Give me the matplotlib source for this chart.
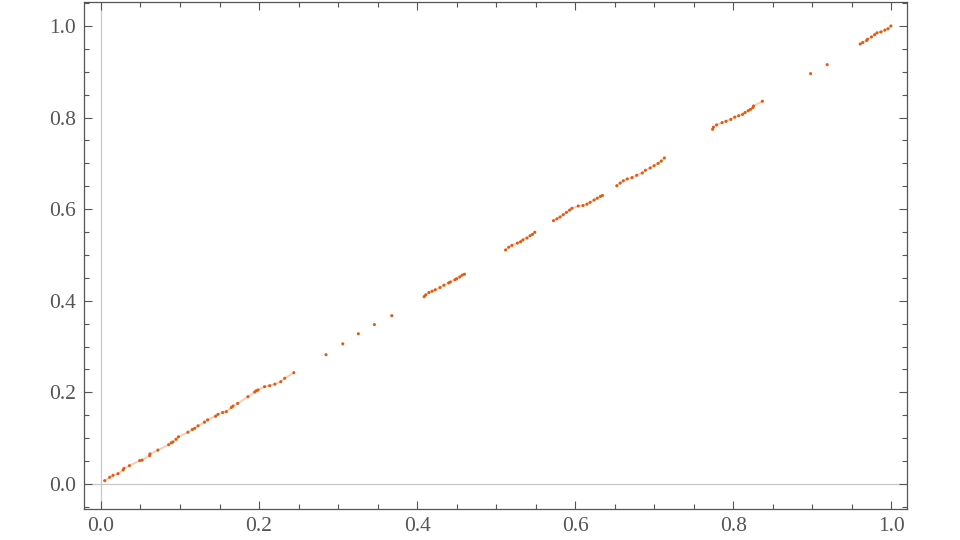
import matplotlib
matplotlib.use("Agg")
import matplotlib.pyplot as plt
from matplotlib.ticker import MultipleLocator, FormatStrFormatter

# Data points (x, y)
xs = [0.0047, 0.011, 0.0152, 0.0215, 0.028, 0.029, 0.036, 0.049, 0.052, 0.0616, 0.062,
      0.072, 0.0857, 0.089, 0.091, 0.095, 0.098, 0.110, 0.1156, 0.1186, 0.1228, 0.131,
      0.135, 0.145, 0.148, 0.154, 0.1586, 0.165, 0.167, 0.173, 0.186, 0.1946, 0.1966,
      0.1987, 0.207, 0.2135, 0.220, 0.2275, 0.2325, 0.244,
      0.2848, 0.306, 0.3257, 0.346, 0.368,
      0.409, 0.411, 0.415, 0.419, 0.423, 0.429, 0.434, 0.440, 0.442, 0.448, 0.450,
      0.454, 0.457, 0.460,
      0.512, 0.516, 0.520, 0.527, 0.531, 0.534, 0.539, 0.543, 0.546, 0.549,
      0.5726, 0.577, 0.581, 0.585, 0.589, 0.593, 0.596,
      0.604, 0.610, 0.615, 0.619, 0.624, 0.628, 0.632, 0.6346,
      0.6528, 0.657, 0.661, 0.666, 0.672, 0.678, 0.685, 0.689, 0.695, 0.700, 0.705,
      0.709, 0.713,
      0.774, 0.775, 0.779, 0.786, 0.791, 0.797, 0.802, 0.807, 0.812, 0.815, 0.819,
      0.822, 0.825, 0.8257,
      0.837, 0.898, 0.919,
      0.9608, 0.964, 0.969, 0.970, 0.975, 0.979, 0.982, 0.987, 0.992, 0.996, 0.9996]
ys = [0.0072, 0.0146, 0.019, 0.0225, 0.0306, 0.034, 0.040, 0.051, 0.052, 0.062, 0.0655,
      0.074, 0.0858, 0.090, 0.0917, 0.0976, 0.103, 0.113, 0.119, 0.1216, 0.127, 0.135,
      0.140, 0.148, 0.152, 0.156, 0.158, 0.167, 0.170, 0.176, 0.1906, 0.2009, 0.2037,
      0.2052, 0.2125, 0.2146, 0.218, 0.2234, 0.2308, 0.243,
      0.2823, 0.306, 0.328, 0.348, 0.3675,
      0.409, 0.413, 0.418, 0.421, 0.424, 0.429, 0.434, 0.439, 0.441, 0.446, 0.448,
      0.452, 0.456, 0.458,
      0.511, 0.517, 0.521, 0.526, 0.529, 0.533, 0.537, 0.542, 0.545, 0.5496,
      0.575, 0.579, 0.583, 0.588, 0.593, 0.598, 0.602,
      0.607, 0.608, 0.611, 0.615, 0.620, 0.624, 0.628, 0.630,
      0.6513, 0.657, 0.662, 0.666, 0.669, 0.674, 0.679, 0.685, 0.690, 0.695, 0.700,
      0.705, 0.7118,
      0.7745, 0.779, 0.784, 0.789, 0.792, 0.796, 0.801, 0.804, 0.807, 0.811, 0.815,
      0.818, 0.822, 0.8253,
      0.8356, 0.896, 0.9156,
      0.9607, 0.964, 0.9685, 0.971, 0.976, 0.981, 0.985, 0.987, 0.991, 0.994, 1.000]

x_ticks = [0.0, 0.2, 0.4, 0.6, 0.8, 1.0]
y_ticks = [0.0, 0.2, 0.4, 0.6, 0.8, 1.0]

plt.rcParams['font.family'] = ['Liberation Serif', 'DejaVu Serif']

color = '#e35b0d'
fig = plt.figure(figsize=(9.6, 5.4), dpi=100)
ax = fig.add_axes([84 / 960, 1 - 509 / 540, (907 - 84) / 960, (509 - 2) / 540])

ax.axhline(0, color='#c8c8c8', lw=0.9, zorder=1)
ax.axvline(0, color='#c8c8c8', lw=0.9, zorder=1)

# faint streaks joining consecutive close points (dense runs in the reference)
seg_x, seg_y = [xs[0]], [ys[0]]
for i in range(1, len(xs)):
    if xs[i] - xs[i - 1] > 0.015:
        if len(seg_x) > 1:
            ax.plot(seg_x, seg_y, color=color, alpha=0.3, lw=1.4, zorder=2,
                    solid_capstyle='round')
        seg_x, seg_y = [], []
    seg_x.append(xs[i])
    seg_y.append(ys[i])
if len(seg_x) > 1:
    ax.plot(seg_x, seg_y, color=color, alpha=0.3, lw=1.4, zorder=2)

ax.scatter(xs, ys, s=5, color=color, edgecolors='none', zorder=3)

ax.set_xlim(-0.0215, 1.020)
ax.set_ylim(-0.0546, 1.0524)

ax.set_xticks(x_ticks)
ax.set_yticks(y_ticks)
ax.xaxis.set_minor_locator(MultipleLocator(0.05))
ax.yaxis.set_minor_locator(MultipleLocator(0.05))
ax.xaxis.set_major_formatter(FormatStrFormatter('%.1f'))
ax.yaxis.set_major_formatter(FormatStrFormatter('%.1f'))

axis_col = '#555555'
for sp in ax.spines.values():
    sp.set_color(axis_col)
    sp.set_linewidth(0.9)
ax.tick_params(which='both', direction='in', top=True, right=True, color=axis_col,
               width=0.8, labelcolor='#555555', labelsize=15.5, pad=6)
ax.tick_params(which='major', length=6)
ax.tick_params(which='minor', length=3.5)

fig.savefig('out.png', dpi=100)
